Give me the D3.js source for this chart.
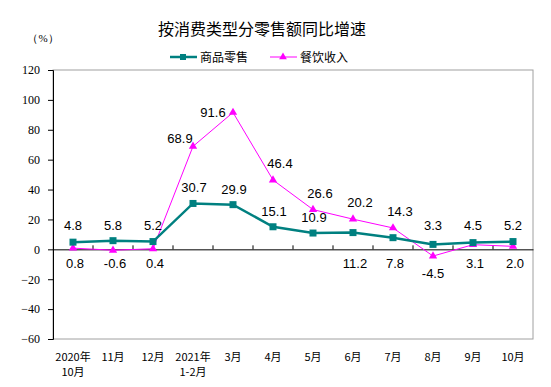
<!DOCTYPE html>
<html>
<head>
<meta charset="utf-8">
<script src="https://cdn.jsdelivr.net/npm/d3@7"></script>
<style>
body { margin: 0; background: #fff; }
</style>
</head>
<body>
<div id="chart"></div>
<script>
var months = ["2020年\n10月", "11月", "12月", "2021年\n1-2月", "3月", "4月", "5月", "6月", "7月", "8月", "9月", "10月"];
var goodsRetail = [4.8, 5.8, 5.2, 30.7, 29.9, 15.1, 10.9, 11.2, 7.8, 3.3, 4.5, 5.2];
var catering = [0.8, -0.6, 0.4, 68.9, 91.6, 46.4, 26.6, 20.2, 14.3, -4.5, 3.1, 2.0];
var yTicks = [-60, -40, -20, 0, 20, 40, 60, 80, 100, 120];

// where each value label sits: "up" above point, "axis" under the zero line, "down" below point, etc.
var goodsPlace = ["top", "top", "top", "up", "up", "up", "up", "axis", "axis", "top", "top", "top"];
var cateringPlace = ["axis", "axis", "axis", "upleft", "left", "upright", "upright", "upright", "upright", "down", "axis", "axis"];

var width = 551, height = 387;
var margin = {top: 70, right: 18, bottom: 48, left: 53};

var svg = d3.select("#chart").append("svg")
    .attr("width", width)
    .attr("height", height);

var x = d3.scaleBand().domain(d3.range(months.length))
    .range([margin.left, width - margin.right]);
var y = d3.scaleLinear().domain([-60, 120])
    .range([height - margin.bottom, margin.top]);

var teal = "#008080", pink = "#ff00ff";
var cjk = "'Noto Sans CJK SC', sans-serif";
var numFont = "'Liberation Sans', Arial, sans-serif";

// title
svg.append("text")
    .attr("x", 262).attr("y", 35)
    .attr("text-anchor", "middle")
    .style("font-family", cjk).style("font-size", "16px")
    .text("按消费类型分零售额同比增速");

svg.append("text")
    .attr("x", 43).attr("y", 42)
    .attr("text-anchor", "middle")
    .style("font-family", "'Liberation Serif', serif").style("font-size", "11px")
    .text("（%）");

// frame
svg.append("rect")
    .attr("x", margin.left).attr("y", margin.top)
    .attr("width", width - margin.right - margin.left)
    .attr("height", height - margin.bottom - margin.top)
    .attr("fill", "none").attr("stroke", "#a0a0a0");

// y axis
var yAxis = svg.append("g")
    .attr("transform", "translate(" + margin.left + ",0)")
    .call(d3.axisLeft(y).tickValues(yTicks).tickSize(5).tickPadding(8));
yAxis.select(".domain").attr("stroke", "#000");
yAxis.selectAll("text")
    .style("font-family", "'Liberation Serif', serif").style("font-size", "12px");

// zero line with upward ticks
var zero = svg.append("g")
    .attr("transform", "translate(0," + y(0) + ")")
    .call(d3.axisTop(x).tickSize(0).tickFormat(""));
zero.select(".domain").attr("stroke", "#000");
zero.selectAll(".bound").data(d3.range(1, months.length))
    .enter().append("line")
    .attr("x1", function(d) { return x(d); })
    .attr("x2", function(d) { return x(d); })
    .attr("y1", 0).attr("y2", -4)
    .attr("stroke", "#000");

// x labels
var xl = svg.append("g");
months.forEach(function(m, i) {
    var t = xl.append("text")
        .attr("x", x(i) + x.bandwidth() / 2)
        .attr("y", 361)
        .attr("text-anchor", "middle")
        .style("font-family", cjk).style("font-size", "11px");
    m.split("\n").forEach(function(line, j) {
        t.append("tspan")
            .attr("x", x(i) + x.bandwidth() / 2)
            .attr("dy", j == 0 ? 0 : 15)
            .text(line);
    });
});

var cx = function(d, i) { return x(i) + x.bandwidth() / 2; };

var line = d3.line()
    .x(function(d, i) { return x(i) + x.bandwidth() / 2; })
    .y(function(d) { return y(d); });

// catering (pink)
svg.append("path").datum(catering)
    .attr("d", line).attr("fill", "none")
    .attr("stroke", pink).attr("stroke-width", 1);

// goods (teal)
svg.append("path").datum(goodsRetail)
    .attr("d", line).attr("fill", "none")
    .attr("stroke", teal).attr("stroke-width", 2.5);

svg.selectAll(".tri").data(catering).enter()
    .append("path")
    .attr("d", d3.symbol().type(d3.symbolTriangle).size(30))
    .attr("transform", function(d, i) { return "translate(" + cx(d, i) + "," + y(d) + ")"; })
    .attr("fill", pink);

svg.selectAll(".sq").data(goodsRetail).enter()
    .append("rect")
    .attr("x", function(d, i) { return cx(d, i) - 3.5; })
    .attr("y", function(d) { return y(d) - 3.5; })
    .attr("width", 7).attr("height", 7)
    .attr("fill", teal);

function labelPos(place, px, py) {
    if (place == "top") return [px, y(0) - 19];
    if (place == "up") return [px + 1, py - 11];
    if (place == "axis") return [px + 2, y(0) + 19];
    if (place == "down") return [px, py + 22];
    if (place == "upleft") return [px - 13, py - 3];
    if (place == "left") return [px - 20, py + 5];
    if (place == "upright") return [px + 7, py - 12];
    return [px, py];
}

function addLabels(vals, places) {
    svg.append("g").selectAll("text").data(vals).enter()
        .append("text")
        .attr("x", function(d, i) { return labelPos(places[i], cx(d, i), y(d))[0]; })
        .attr("y", function(d, i) { return labelPos(places[i], cx(d, i), y(d))[1]; })
        .attr("text-anchor", "middle")
        .style("font-family", numFont).style("font-size", "13px")
        .text(function(d) { return d.toFixed(1); });
}
addLabels(goodsRetail, goodsPlace);
addLabels(catering, cateringPlace);

// legend
var lg = svg.append("g");
lg.append("line").attr("x1", 170).attr("x2", 197).attr("y1", 57).attr("y2", 57)
    .attr("stroke", teal).attr("stroke-width", 2.5);
lg.append("rect").attr("x", 180).attr("y", 54).attr("width", 6).attr("height", 6).attr("fill", teal);
lg.append("text").attr("x", 200).attr("y", 62)
    .style("font-family", cjk).style("font-size", "12px").text("商品零售");
lg.append("line").attr("x1", 270).attr("x2", 297).attr("y1", 57).attr("y2", 57)
    .attr("stroke", pink).attr("stroke-width", 1);
lg.append("path").attr("d", d3.symbol().type(d3.symbolTriangle).size(26))
    .attr("transform", "translate(283,57)").attr("fill", pink);
lg.append("text").attr("x", 300).attr("y", 62)
    .style("font-family", cjk).style("font-size", "12px").text("餐饮收入");
</script>
</body>
</html>
